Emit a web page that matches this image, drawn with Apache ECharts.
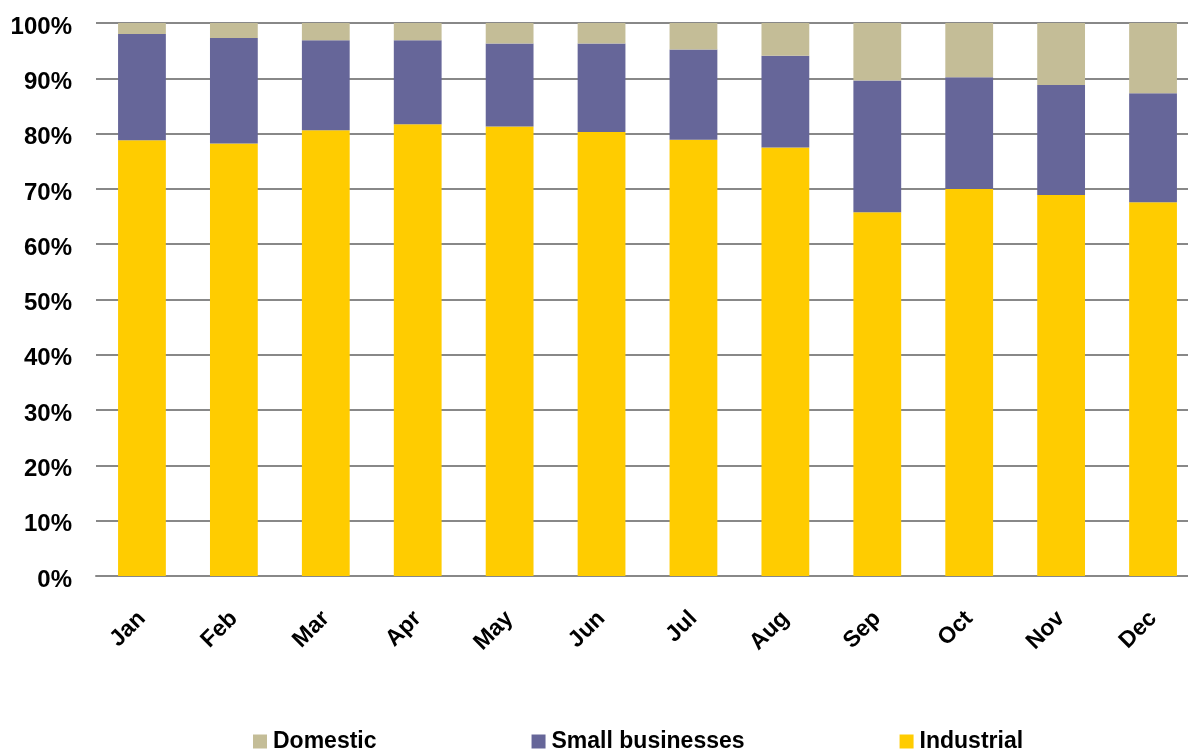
<!DOCTYPE html>
<html>
<head>
<meta charset="utf-8">
<script src="https://cdn.jsdelivr.net/npm/echarts@6/dist/echarts.min.js"></script>
<style>html,body{margin:0;padding:0;background:#fff}#c{width:1188px;height:749px}</style>
</head>
<body>
<div id="c"></div>
<script>
const months = ['Jan','Feb','Mar','Apr','May','Jun','Jul','Aug','Sep','Oct','Nov','Dec'];
const industrial = [78.8, 78.2, 80.6, 81.7, 81.3, 80.3, 78.9, 77.5, 65.8, 70.0, 68.9, 67.6];
const smallBusinesses = [19.2, 19.1, 16.3, 15.2, 15.0, 16.0, 16.3, 16.6, 23.8, 20.2, 19.9, 19.7];
const domestic = [2.0, 2.7, 3.1, 3.1, 3.7, 3.7, 4.8, 5.9, 10.4, 9.8, 11.2, 12.7];
const legendOrder = ['Domestic', 'Small businesses', 'Industrial'];

const FONT = '"Liberation Sans", Arial, sans-serif';
const chart = echarts.init(document.getElementById('c'), null, {renderer: 'canvas'});
chart.setOption({
  animation: false,
  backgroundColor: '#ffffff',
  grid: {left: 96, width: 1103, top: 23, bottom: 173, containLabel: false, outerBoundsMode: 'none'},
  legend: {
    data: legendOrder,
    left: 253,
    top: 730,
    itemWidth: 14,
    itemHeight: 14,
    itemGap: 155,
    icon: 'rect',
    textStyle: {fontFamily: FONT, fontWeight: 'bold', fontSize: 23, color: '#000', padding: [0,0,0,1]},
    padding: 0
  },
  xAxis: {
    type: 'category',
    data: months,
    axisLine: {show: true, lineStyle: {color: '#888888', width: 2}},
    axisTick: {show: false},
    axisLabel: {rotate: 45, margin: 39, fontFamily: FONT, fontWeight: 'bold', fontSize: 23, color: '#000', interval: 0}
  },
  yAxis: {
    type: 'value',
    min: 0, max: 100, interval: 10,
    axisLine: {show: false},
    axisTick: {show: false},
    splitLine: {lineStyle: {color: '#888888', width: 2}},
    axisLabel: {formatter: '{value}%', margin: 24, verticalAlign: 'top', lineHeight: 8, fontFamily: FONT, fontWeight: 'bold', fontSize: 24, color: '#000'}
  },
  series: [
    {name: 'Industrial', type: 'bar', stack: 's', data: industrial, barCategoryGap: '48%', itemStyle: {color: '#FFCC00'}},
    {name: 'Small businesses', type: 'bar', stack: 's', data: smallBusinesses, itemStyle: {color: '#666699'}},
    {name: 'Domestic', type: 'bar', stack: 's', data: domestic, itemStyle: {color: '#C4BD97'}}
  ]
});
</script>
</body>
</html>
